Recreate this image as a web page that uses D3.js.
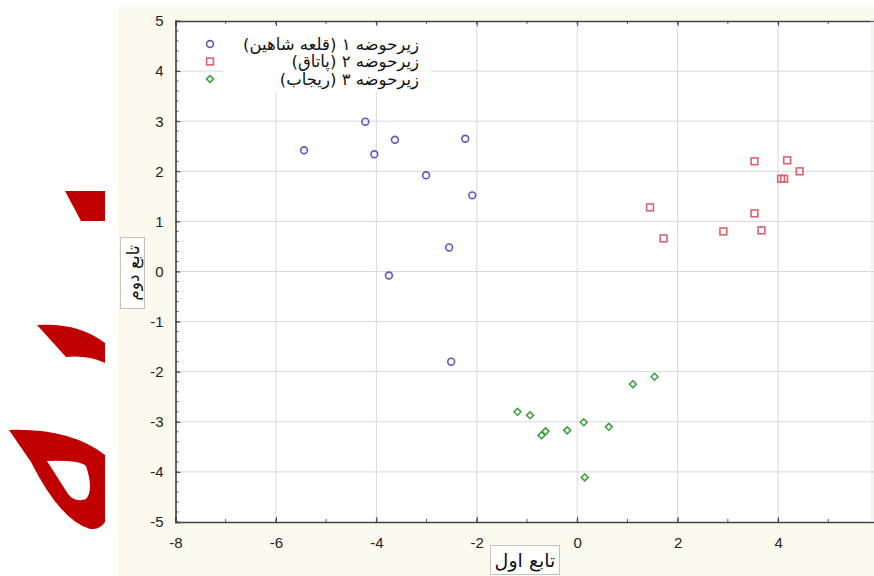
<!DOCTYPE html>
<html>
<head>
<meta charset="utf-8">
<script src="https://cdn.jsdelivr.net/npm/d3@7"></script>
<style>
  body { margin: 0; background: #fff; }
  svg { display: block; }
  .tick-label { font-family: "Liberation Sans", Arial, sans-serif; font-size: 15px; fill: #222; }
  .fa { font-family: "DejaVu Sans", sans-serif; fill: #111; }
</style>
</head>
<body>
<div id="chart"></div>
<script>
// series values: [x, y]
const group1 = [[-5.44, 2.42], [-4.22, 2.99], [-4.04, 2.34], [-3.63, 2.63], [-3.01, 1.92],
  [-2.23, 2.65], [-2.09, 1.52], [-2.55, 0.48], [-3.75, -0.08], [-2.51, -1.80]];
const group2 = [[3.53, 2.20], [4.18, 2.22], [4.43, 2.00], [4.06, 1.85], [4.12, 1.85],
  [1.45, 1.28], [3.53, 1.16], [1.72, 0.66], [2.91, 0.80], [3.67, 0.82]];
const group3 = [[1.54, -2.10], [1.11, -2.25], [-1.19, -2.80], [-0.94, -2.87], [-0.63, -3.19],
  [-0.71, -3.27], [-0.20, -3.17], [0.13, -3.01], [0.63, -3.10], [0.15, -4.11]];

const seriesNames = ["زیرحوضه ۱ (قلعه شاهین)", "زیرحوضه ۲ (پاتاق)", "زیرحوضه ۳ (ریجاب)"];
const xTicks = [-8, -6, -4, -2, 0, 2, 4, 6];
const yTicks = [-5, -4, -3, -2, -1, 0, 1, 2, 3, 4, 5];
const xTitle = "تابع اول";
const yTitle = "تابع دوم";

const width = 874, height = 576;
const plot = { left: 175.5, right: 878.5, top: 21, bottom: 522 };

const svg = d3.select("#chart").append("svg")
  .attr("width", width).attr("height", height);

// red decorative glyph fragments on the left (part of the page, not data)
const deco = svg.append("g").attr("fill", "#c00000");
deco.append("path").attr("d", "M65,191 L105,191 L105,221 L81,221 Z");
deco.append("path").attr("d", "M37,325 Q78,322 105,343 L105,363 Q88,355 66,357 Z");
deco.append("path")
  .attr("fill-rule", "evenodd")
  .attr("d", "M9,430 Q70,428 105,455 L105,522 Q100,530 90,529 Q60,520 31,462 Z " +
             "M47,461 Q80,460 86,466 Q94,490 86,499 Q75,503 68,494 Z");

// cream panel
svg.append("rect").attr("x", 118).attr("y", 7).attr("width", width - 118).attr("height", height - 7)
  .attr("fill", "#fcf9ee");

const x = d3.scaleLinear().domain([-8, 6]).range([plot.left, plot.right]);
const y = d3.scaleLinear().domain([-5, 5]).range([plot.bottom, plot.top]);

svg.append("rect").attr("x", plot.left).attr("y", plot.top)
  .attr("width", plot.right - plot.left).attr("height", plot.bottom - plot.top)
  .attr("fill", "#fff");

// grid
const grid = svg.append("g").attr("stroke", "#d9d9d9").attr("stroke-width", 1);
grid.selectAll(".gx").data(xTicks.slice(1, -1)).enter().append("line")
  .attr("x1", d => x(d)).attr("x2", d => x(d)).attr("y1", plot.top).attr("y2", plot.bottom);
grid.selectAll(".gy").data(yTicks.slice(1, -1)).enter().append("line")
  .attr("y1", d => y(d)).attr("y2", d => y(d)).attr("x1", plot.left).attr("x2", plot.right);

// axes with inward ticks
const xMinor = d3.range(-8, 6.01, 1);
const yMinor = d3.range(-5, 5.01, 0.2);
const fmt = d => (x.domain()[1] === d ? "" : String(d));

const xAxisB = d3.axisBottom(x).tickValues(xTicks).tickSize(-5).tickPadding(12).tickFormat(fmt);
const xAxisT = d3.axisTop(x).tickValues(xTicks).tickSize(-5).tickFormat("");
const yAxisL = d3.axisLeft(y).tickValues(yTicks).tickSize(-5).tickPadding(12).tickFormat(d => String(d));

function minor(g, vals, horiz, pos, dir) {
  g.selectAll(null).data(vals).enter().append("line")
    .attr("stroke", "#555").attr("stroke-width", 1)
    .each(function (d) {
      const s = d3.select(this);
      if (horiz) s.attr("x1", x(d)).attr("x2", x(d)).attr("y1", pos).attr("y2", pos + dir * 3);
      else s.attr("y1", y(d)).attr("y2", y(d)).attr("x1", pos).attr("x2", pos + dir * 3);
    });
}
const ticksG = svg.append("g");
minor(ticksG, xMinor, true, plot.bottom, -1);
minor(ticksG, xMinor, true, plot.top, 1);
minor(ticksG, yMinor, false, plot.left, 1);

const gxB = svg.append("g").attr("transform", `translate(0,${plot.bottom})`).call(xAxisB);
const gxT = svg.append("g").attr("transform", `translate(0,${plot.top})`).call(xAxisT);
const gyL = svg.append("g").attr("transform", `translate(${plot.left},0)`).call(yAxisL);
[gxB, gxT, gyL].forEach(g => {
  g.select(".domain").attr("stroke", "#444").attr("stroke-width", 1.6);
  g.selectAll(".tick line").attr("stroke", "#444");
  g.selectAll(".tick text").attr("class", "tick-label").attr("fill", null);
});
gxB.selectAll(".tick text").attr("dy", "0.9em");
svg.append("line").attr("x1", 872).attr("x2", 872).attr("y1", plot.top).attr("y2", plot.bottom)
  .attr("stroke", "#e2e2e2");

// legend
svg.append("rect").attr("x", 223).attr("y", 26).attr("width", 208).attr("height", 66).attr("fill", "#fff");

// markers
const color = ["#5a5ac4", "#e0606c", "#41a041"];
const markG = svg.append("g").attr("fill", "none").attr("stroke-width", 1.6);
function drawMarker(g, i, cx, cy) {
  if (i === 0) {
    g.append("circle").attr("cx", cx).attr("cy", cy).attr("r", 3.4).attr("stroke", color[0]);
  } else if (i === 1) {
    g.append("rect").attr("x", cx - 3.4).attr("y", cy - 3.4).attr("width", 6.8).attr("height", 6.8)
      .attr("stroke", color[1]);
  } else {
    g.append("path").attr("d", d3.symbol(d3.symbolDiamond2, 30)()).attr("transform", `translate(${cx},${cy})`)
      .attr("stroke", color[2]);
  }
}
[group1, group2, group3].forEach((grp, i) => {
  grp.forEach(d => drawMarker(markG, i, x(d[0]), y(d[1])));
});

const legend = svg.append("g");
seriesNames.forEach((name, i) => {
  const ly = 44 + i * 17.5;
  drawMarker(legend.append("g").attr("fill", "none").attr("stroke-width", 1.6), i, 210, ly);
  legend.append("text").attr("class", "fa")
    .attr("x", 419).attr("y", ly + 5.5)
    .attr("direction", "rtl").attr("text-anchor", "start")
    .style("font-size", "16.5px").text(name);
});

// axis titles in dotted boxes
svg.append("rect").attr("x", 490.5).attr("y", 545.5).attr("width", 69).attr("height", 29)
  .attr("fill", "#fff").attr("stroke", "#888").attr("stroke-dasharray", "1,1");
svg.append("text").attr("class", "fa").attr("x", 525).attr("y", 567)
  .attr("text-anchor", "middle").attr("direction", "rtl").style("font-size", "19px").text(xTitle);

svg.append("rect").attr("x", 120.5).attr("y", 237.5).attr("width", 24).attr("height", 71)
  .attr("fill", "#fff").attr("stroke", "#888").attr("stroke-dasharray", "1,1");
svg.append("text").attr("class", "fa")
  .attr("transform", "translate(139,273) rotate(-90)")
  .attr("text-anchor", "middle").attr("direction", "rtl").style("font-size", "17px").text(yTitle);
</script>
</body>
</html>
